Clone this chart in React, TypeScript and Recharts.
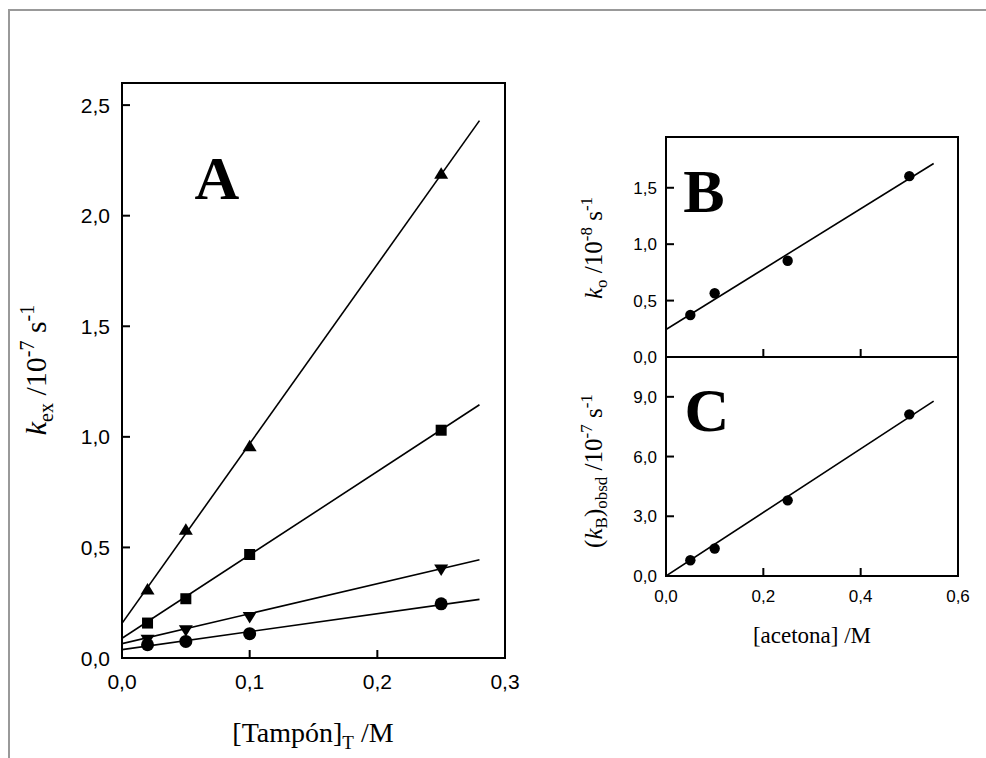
import React from "react";
import { ScatterChart, Scatter, XAxis, YAxis, ReferenceArea, Label } from "recharts";

// Panel A: k_ex vs [Tampón]_T
const tampon = [0.02, 0.05, 0.1, 0.25];
const kexTriangle = [0.31, 0.58, 0.957, 2.19];
const kexSquare = [0.158, 0.268, 0.468, 1.03];
const kexDown = [0.083, 0.125, 0.185, 0.4];
const kexCircle = [0.06, 0.075, 0.11, 0.245];

// fitted lines of panel A (read at both ends)
const fitTamponX = [0, 0.28];
const fitTriangle = [0.157, 2.43];
const fitSquare = [0.089, 1.145];
const fitDown = [0.065, 0.444];
const fitCircle = [0.038, 0.265];

// Panels B and C: vs [acetona]
const acetona = [0.05, 0.1, 0.25, 0.5];
const ko = [0.372, 0.565, 0.853, 1.603];
const kB = [0.79, 1.38, 3.8, 8.12];
const fitAcetonaX = [0, 0.55];
const fitKo = [0.244, 1.715];
const fitKB = [0, 8.78];

const ticksAX = [0, 0.1, 0.2, 0.3];
const ticksAY = [0, 0.5, 1, 1.5, 2, 2.5];
const ticksBX = [0.2, 0.4];
const ticksBY = [0, 0.5, 1, 1.5];
const ticksCX = [0, 0.2, 0.4, 0.6];
const ticksCY = [0, 3, 6, 9];

const SANS = "'Liberation Sans', Arial, sans-serif";
const SERIF = "'Liberation Serif', 'Times New Roman', serif";

const pts = (xs: number[], ys: number[]) => xs.map((x, i) => ({ x, y: ys[i] }));
const comma = (v: number) => v.toFixed(1).replace(".", ",");

function leftTick(fontSize: number, gap: number) {
  return (p: any) => (
    <g>
      <line x1={p.x} x2={p.x + 8} y1={p.y} y2={p.y} stroke="#000" strokeWidth={2} />
      <text x={p.x - gap} y={p.y} dy="0.36em" textAnchor="end" fontSize={fontSize} fontFamily={SANS} fill="#000">
        {comma(p.payload.value)}
      </text>
    </g>
  );
}

function bottomTick(fontSize: number, offset: number, showText = true) {
  return (p: any) => (
    <g>
      <line x1={p.x} x2={p.x} y1={p.y} y2={p.y - 8} stroke="#000" strokeWidth={2} />
      {showText && (
        <text x={p.x} y={p.y + offset} textAnchor="middle" fontSize={fontSize} fontFamily={SANS} fill="#000">
          {comma(p.payload.value)}
        </text>
      )}
    </g>
  );
}

const TriUp = ({ cx, cy }: any) => (
  <path d={`M${cx},${cy - 6.5} L${cx + 7},${cy + 5} L${cx - 7},${cy + 5} Z`} fill="#000" />
);
const TriDown = ({ cx, cy }: any) => (
  <path d={`M${cx},${cy + 6.5} L${cx + 7},${cy - 5} L${cx - 7},${cy - 5} Z`} fill="#000" />
);
const Square = ({ cx, cy }: any) => <rect x={cx - 5.5} y={cy - 5.5} width={11} height={11} fill="#000" />;
const Dot = (r: number) => ({ cx, cy }: any) => <circle cx={cx} cy={cy} r={r} fill="#000" />;
const NoMark = () => <g />;

const bigLetter = (letter: string, dx: number, dy: number) => (p: any) => {
  const vb = p.viewBox;
  return (
    <text x={vb.x + dx} y={vb.y + dy} textAnchor="middle" fontSize={62} fontWeight="bold" fontFamily={SERIF} fill="#000">
      {letter}
    </text>
  );
};

const fitLine = { stroke: "#000", strokeWidth: 1.6 };

function PanelA() {
  return (
    <ScatterChart width={986} height={758} margin={{ top: 83, right: 481, bottom: 70, left: 62 }}>
      <XAxis
        type="number"
        dataKey="x"
        domain={[0, 0.3]}
        ticks={ticksAX}
        allowDataOverflow
        axisLine={false}
        tickLine={false}
        tickSize={0}
        tickMargin={0}
        height={30}
        tick={bottomTick(21, 31)}
      >
        <Label
          content={() => (
            <text x={313} y={742} textAnchor="middle" fontSize={28} fontFamily={SERIF} fill="#000">
              [Tampón]
              <tspan fontSize={19} dy={7}>T</tspan>
              <tspan dy={-7}> /M</tspan>
            </text>
          )}
        />
      </XAxis>
      <YAxis
        type="number"
        dataKey="y"
        domain={[0, 2.6]}
        ticks={ticksAY}
        allowDataOverflow
        axisLine={false}
        tickLine={false}
        tickSize={0}
        tickMargin={0}
        width={60}
        tick={leftTick(21, 12)}
      >
        <Label
          content={() => (
            <text transform="rotate(-90, 46, 370)" x={46} y={370} textAnchor="middle" fontSize={30} fontFamily={SERIF} fill="#000">
              <tspan fontStyle="italic">k</tspan>
              <tspan fontSize={20} dy={7}>ex</tspan>
              <tspan dy={-7}> /10</tspan>
              <tspan fontSize={20} dy={-12}>-7</tspan>
              <tspan dy={12}> s</tspan>
              <tspan fontSize={20} dy={-12}>-1</tspan>
            </text>
          )}
        />
      </YAxis>
      <ReferenceArea x1={0} x2={0.3} y1={0} y2={2.6} fill="none" stroke="#000" strokeWidth={2} label={{ content: bigLetter("A", 95, 116) }} />
      <Scatter data={pts(fitTamponX, fitTriangle)} line={fitLine} shape={NoMark} isAnimationActive={false} />
      <Scatter data={pts(fitTamponX, fitSquare)} line={fitLine} shape={NoMark} isAnimationActive={false} />
      <Scatter data={pts(fitTamponX, fitDown)} line={fitLine} shape={NoMark} isAnimationActive={false} />
      <Scatter data={pts(fitTamponX, fitCircle)} line={fitLine} shape={NoMark} isAnimationActive={false} />
      <Scatter data={pts(tampon, kexTriangle)} shape={TriUp} isAnimationActive={false} />
      <Scatter data={pts(tampon, kexSquare)} shape={Square} isAnimationActive={false} />
      <Scatter data={pts(tampon, kexDown)} shape={TriDown} isAnimationActive={false} />
      <Scatter data={pts(tampon, kexCircle)} shape={Dot(6.5)} isAnimationActive={false} />
    </ScatterChart>
  );
}

function PanelB() {
  return (
    <ScatterChart width={986} height={758} margin={{ top: 137, right: 28, bottom: 371, left: 606 }}>
      <XAxis
        type="number"
        dataKey="x"
        domain={[0, 0.6]}
        ticks={ticksBX}
        allowDataOverflow
        axisLine={false}
        tickLine={false}
        tickSize={0}
        tickMargin={0}
        height={30}
        tick={bottomTick(17, 26, false)}
      />
      <YAxis
        type="number"
        dataKey="y"
        domain={[0, 1.95]}
        ticks={ticksBY}
        allowDataOverflow
        axisLine={false}
        tickLine={false}
        tickSize={0}
        tickMargin={0}
        width={60}
        tick={leftTick(17, 9)}
      >
        <Label
          content={() => (
            <text transform="rotate(-90, 602, 248)" x={602} y={248} textAnchor="middle" fontSize={25} fontFamily={SERIF} fill="#000">
              <tspan fontStyle="italic">k</tspan>
              <tspan fontSize={17} dy={5}>o</tspan>
              <tspan dy={-5}> /10</tspan>
              <tspan fontSize={17} dy={-10}>-8</tspan>
              <tspan dy={10}> s</tspan>
              <tspan fontSize={17} dy={-10}>-1</tspan>
            </text>
          )}
        />
      </YAxis>
      <ReferenceArea x1={0} x2={0.6} y1={0} y2={1.95} fill="none" stroke="#000" strokeWidth={2} label={{ content: bigLetter("B", 38, 75) }} />
      <Scatter data={pts(fitAcetonaX, fitKo)} line={fitLine} shape={NoMark} isAnimationActive={false} />
      <Scatter data={pts(acetona, ko)} shape={Dot(5.2)} isAnimationActive={false} />
    </ScatterChart>
  );
}

function PanelC() {
  return (
    <ScatterChart width={986} height={758} margin={{ top: 357, right: 28, bottom: 152, left: 606 }}>
      <XAxis
        type="number"
        dataKey="x"
        domain={[0, 0.6]}
        ticks={ticksCX}
        allowDataOverflow
        axisLine={false}
        tickLine={false}
        tickSize={0}
        tickMargin={0}
        height={30}
        tick={bottomTick(17, 26)}
      >
        <Label
          content={() => (
            <text x={812} y={643} textAnchor="middle" fontSize={23} fontFamily={SERIF} fill="#000">
              [acetona] /M
            </text>
          )}
        />
      </XAxis>
      <YAxis
        type="number"
        dataKey="y"
        domain={[0, 11]}
        ticks={ticksCY}
        allowDataOverflow
        axisLine={false}
        tickLine={false}
        tickSize={0}
        tickMargin={0}
        width={60}
        tick={leftTick(17, 9)}
      >
        <Label
          content={() => (
            <text transform="rotate(-90, 602, 471)" x={602} y={471} textAnchor="middle" fontSize={25} fontFamily={SERIF} fill="#000">
              (<tspan fontStyle="italic">k</tspan>
              <tspan fontSize={17} dy={5}>B</tspan>
              <tspan dy={-5}>)</tspan>
              <tspan fontSize={17} dy={5}>obsd</tspan>
              <tspan dy={-5}> /10</tspan>
              <tspan fontSize={17} dy={-10}>-7</tspan>
              <tspan dy={10}> s</tspan>
              <tspan fontSize={17} dy={-10}>-1</tspan>
            </text>
          )}
        />
      </YAxis>
      <ReferenceArea x1={0} x2={0.6} y1={0} y2={11} fill="none" stroke="#000" strokeWidth={2} label={{ content: bigLetter("C", 41, 74) }} />
      <Scatter data={pts(fitAcetonaX, fitKB)} line={fitLine} shape={NoMark} isAnimationActive={false} />
      <Scatter data={pts(acetona, kB)} shape={Dot(5.2)} isAnimationActive={false} />
    </ScatterChart>
  );
}

const layer: React.CSSProperties = { position: "absolute", left: 0, top: 0 };

export default function App() {
  return (
    <div style={{ position: "absolute", left: 0, top: 0, width: 986, height: 758, background: "#fff", overflow: "hidden" }}>
      <div
        style={{
          position: "absolute",
          left: 8,
          top: 9,
          width: 990,
          height: 760,
          borderTop: "2px solid #999",
          borderLeft: "2px solid #999",
        }}
      />
      <div style={layer}>
        <PanelA />
      </div>
      <div style={layer}>
        <PanelB />
      </div>
      <div style={layer}>
        <PanelC />
      </div>
    </div>
  );
}
